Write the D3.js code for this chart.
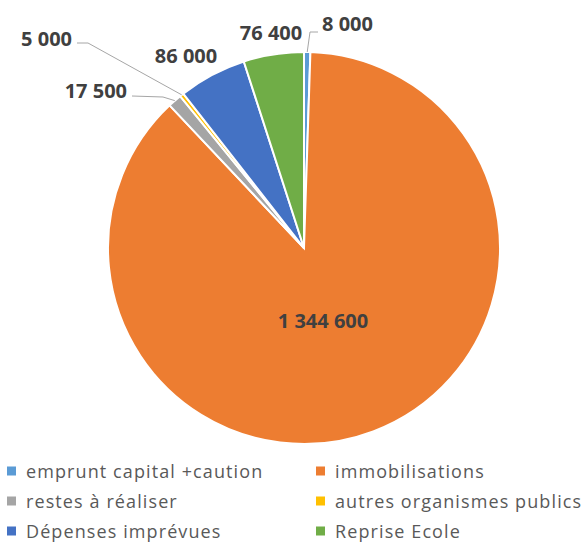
<!DOCTYPE html>
<html>
<head>
<meta charset="utf-8">
<script src="https://cdn.jsdelivr.net/npm/d3@7"></script>
<style>
  body { margin: 0; background: #fff; }
  .lbl { font-family: "Open Sans", sans-serif; font-weight: bold; font-size: 20px; fill: #404040;
         stroke: #fff; stroke-width: 2px; stroke-opacity: 0.8; paint-order: stroke; stroke-linejoin: round; }
  .lbl.inside { stroke: none; }
  .leg { font-family: "Open Sans", sans-serif; font-size: 18px; letter-spacing: 1.1px; fill: #595959; }
</style>
</head>
<body>
<div id="chart"></div>
<script>
// data
var categories = ["emprunt capital +caution", "immobilisations", "restes à réaliser",
                  "autres organismes publics", "Dépenses imprévues", "Reprise Ecole"];
var values = [8000, 1344600, 17500, 5000, 86000, 76400];
var labels = ["8 000", "1 344 600", "17 500", "5 000", "86 000", "76 400"];
var colors = ["#5B9BD5", "#ED7D31", "#A5A5A5", "#FFC000", "#4472C4", "#70AD47"];

var svgWidth = 585;
var svgHeight = 542;

var cx = 304, cy = 248, radius = 196;

var svg = d3.select("#chart")
    .append("svg")
    .attr("width", svgWidth)
    .attr("height", svgHeight);

var pieGroup = svg.append("g")
    .attr("transform", `translate(${cx}, ${cy})`);

var pie = d3.pie().sort(null).value(d => d);
var arcs = pie(values);

var arc = d3.arc().innerRadius(0).outerRadius(radius);

// slices
pieGroup.selectAll("path")
    .data(arcs)
    .enter()
    .append("path")
    .attr("d", arc)
    .attr("fill", (d, i) => colors[i])
    .attr("stroke", "#fff")
    .attr("stroke-width", 2);

// label placement (relative to pie centre), leader elbow if any
var labelPlace = [
    {dx: 18, dy: -224, anchor: "start", elbow: [6, -216], end: [14, -216]},
    {dx: 19, dy: 73, anchor: "middle", inside: true},
    {dx: -177, dy: -157, anchor: "end", elbow: [-141, -151], end: [-172, -152]},
    {dx: -232, dy: -209, anchor: "end", elbow: [-216, -205], end: [-227, -205]},
    {dx: -118, dy: -192, anchor: "middle"},
    {dx: -33, dy: -215, anchor: "middle"}
];

// leader lines
arcs.forEach(function(d, i) {
    var p = labelPlace[i];
    if (!p.elbow) return;
    var a = (d.startAngle + d.endAngle) / 2;
    var start = [Math.sin(a) * radius, -Math.cos(a) * radius];
    pieGroup.append("polyline")
        .attr("points", [start, p.elbow, p.end].map(q => q.join(",")).join(" "))
        .attr("fill", "none")
        .attr("stroke", "#A6A6A6")
        .attr("stroke-width", 1);
});

// data labels
pieGroup.selectAll("text.lbl")
    .data(arcs)
    .enter()
    .append("text")
    .attr("class", (d, i) => labelPlace[i].inside ? "lbl inside" : "lbl")
    .attr("x", (d, i) => labelPlace[i].dx)
    .attr("y", (d, i) => labelPlace[i].dy)
    .attr("text-anchor", (d, i) => labelPlace[i].anchor)
    .attr("dy", "0.35em")
    .text((d, i) => labels[i]);

// legend, two columns
var legend = svg.append("g");
var legItems = legend.selectAll("g")
    .data(categories)
    .enter()
    .append("g")
    .attr("transform", (d, i) => `translate(${i % 2 === 0 ? 7 : 316}, ${471 + Math.floor(i / 2) * 30})`);

legItems.append("rect")
    .attr("x", 0)
    .attr("y", -4.5)
    .attr("width", 9)
    .attr("height", 9)
    .attr("fill", (d, i) => colors[i]);

legItems.append("text")
    .attr("class", "leg")
    .attr("x", 19)
    .attr("y", 0)
    .attr("dy", "0.38em")
    .text(d => d);
</script>
</body>
</html>
